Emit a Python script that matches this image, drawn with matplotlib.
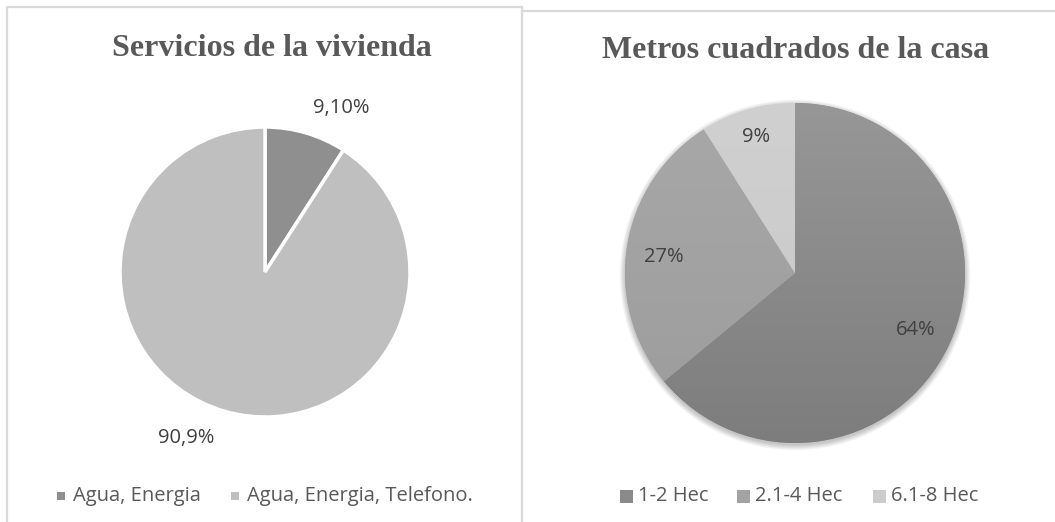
import numpy as np
import matplotlib.pyplot as plt
from matplotlib.patches import Rectangle, Circle
from matplotlib.colors import to_rgb

# Chart data
titles = ['Servicios de la vivienda', 'Metros cuadrados de la casa']
serv_labels = ['Agua, Energia', 'Agua, Energia, Telefono.']
serv_values = [9.1, 90.9]
serv_texts = ['9,10%', '90,9%']
area_labels = ['1-2 Hec', '2.1-4 Hec', '6.1-8 Hec']
area_values = [64, 27, 9]
area_texts = ['64%', '27%', '9%']

# Figure in pixel-like units (1055 x 522)
W, H = 1055, 522
fig = plt.figure(figsize=(W / 100, H / 100), dpi=100)
ax = fig.add_axes([0, 0, 1, 1])

tcolor = '#595959'
lfont = 'Open Sans'
lsize = 14.5

# panel borders
bcol = '#d9d9d9'
ax.plot([7, 7, 522, 522], [0, H - 7, H - 7, 0], color=bcol, lw=1.6)
ax.plot([523, W], [H - 11, H - 11], color=bcol, lw=1.6)

# ---- left pie
cx1, cy1, r1 = 265, H - 272, 145
serv_colors = ['#8f8f8f', '#bfbfbf']
w1, _ = ax.pie(serv_values, colors=serv_colors, startangle=90, counterclock=False,
               center=(cx1, cy1), radius=r1, frame=True,
               wedgeprops=dict(edgecolor='white', linewidth=2.5))
lpos1 = [(341, 108), (186, 438)]
for t, (x, y) in zip(serv_texts, lpos1):
    ax.text(x, H - y, t, ha='center', va='center', fontsize=lsize,
            family=lfont, color='#404040')

ax.text(272, H - 49, titles[0], ha='center', va='center', fontsize=23,
        family='Liberation Serif', weight='bold', color=tcolor)

# ---- right pie
cx2, cy2, r2 = 795, H - 273, 170
# soft shadow
for i in range(10):
    ax.add_patch(Circle((cx2, cy2 - 2), r2 + 0.6 * i, color='black',
                        alpha=0.025, lw=0, zorder=0))
area_top = ['#979797', '#a8a8a8', '#d0d0d0']
area_bot = ['#7d7d7d', '#9c9c9c', '#c8c8c8']
w2, _ = ax.pie(area_values, colors=area_top, startangle=90, counterclock=False,
               center=(cx2, cy2), radius=r2, frame=True,
               wedgeprops=dict(linewidth=0))
# vertical gradient inside each wedge
for wedge, c_top, c_bot in zip(w2, area_top, area_bot):
    top = np.array(to_rgb(c_top))
    bot = np.array(to_rgb(c_bot))
    f = np.linspace(0, 1, 256)[:, None]
    grad = (top[None, :] * (1 - f) + bot[None, :] * f)[:, None, :]
    im = ax.imshow(grad, extent=(cx2 - r2, cx2 + r2, cy2 - r2, cy2 + r2),
                   aspect='auto', origin='upper', zorder=1.5)
    im.set_clip_path(wedge)
lpos2 = [(916, 330), (664, 257), (756, 137)]
for t, (x, y) in zip(area_texts, lpos2):
    ax.text(x, H - y, t, ha='center', va='center', fontsize=lsize,
            family=lfont, color='#404040', zorder=3)

ax.text(796, H - 51, titles[1], ha='center', va='center', fontsize=23,
        family='Liberation Serif', weight='bold', color=tcolor)

# ---- legends (drawn manually as in the original)
def legend_row(xs, y, labels, colors, size):
    for x, lab, c in zip(xs, labels, colors):
        ax.add_patch(Rectangle((x - size / 2, H - y - size / 2), size, size,
                               color=c, lw=0, zorder=3))
        ax.text(x + 12, H - y, lab, ha='left', va='center',
                fontsize=lsize, family=lfont, color=tcolor, zorder=3)

legend_row([61, 235], 496, serv_labels, serv_colors, 8)
legend_row([626, 743, 879], 496, area_labels, ['#8a8a8a', '#a3a3a3', '#cccccc'], 13)

ax.set_xlim(0, W)
ax.set_ylim(0, H)
ax.set_aspect('equal')
ax.set_axis_off()

fig.savefig('out.png', dpi=100)
